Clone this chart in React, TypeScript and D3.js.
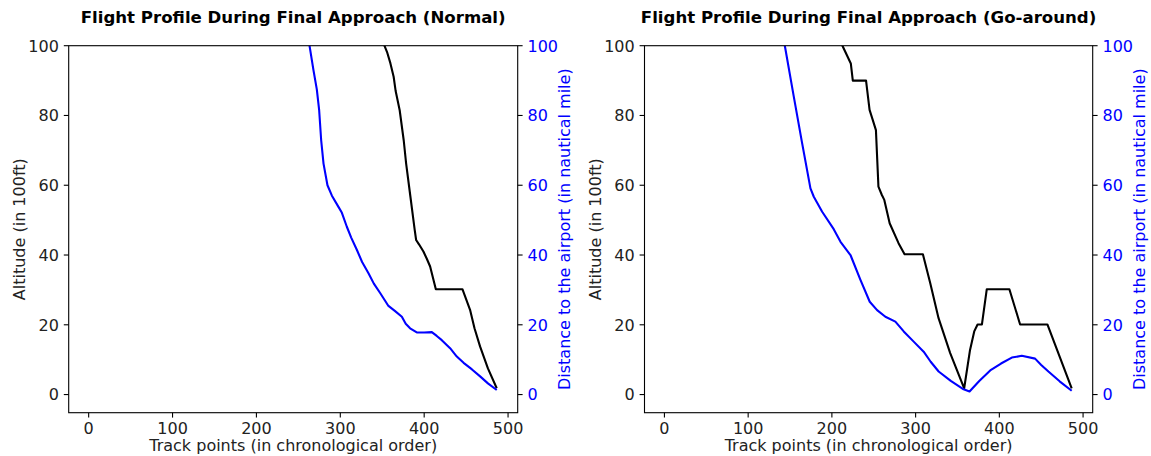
import React from 'react';
import * as d3 from 'd3';

// ---- Data (track point index, value) ----
// Normal approach: altitude (in 100 ft)
const normalAltIdx = [346, 352.6, 356, 359.7, 363.6, 366, 370.8, 375.6, 378.5, 383.6, 388.7, 390.4, 394, 399.1, 403, 407.1, 413.9, 445.6, 454.7, 460, 466.6, 476, 486.5];
const normalAlt = [107, 100, 98, 95, 91.1, 87, 81.5, 72.9, 66.2, 56.7, 47.2, 44.3, 43, 41, 39, 36.7, 30.2, 30.2, 24.3, 19, 13.8, 7.5, 1.8];
// Normal approach: distance to airport (nautical miles)
const normalDistIdx = [258, 263.3, 268, 272, 274.8, 277.2, 280, 284.7, 290, 297.8, 301.9, 307.8, 313, 319.7, 326, 333.6, 340, 347.5, 357.4, 365, 373.4, 378, 383.2, 391.2, 400, 409.1, 415, 421, 430.9, 438.9, 447, 457, 466.7, 476, 486.5];
const normalDist = [108, 100, 93, 87.5, 81.5, 72.9, 66.2, 60, 57, 53.8, 52.1, 48.1, 45, 41.5, 38, 34.8, 31.8, 29.1, 25.4, 24, 22.3, 20.3, 19, 17.8, 17.8, 17.9, 16.8, 15.6, 13.3, 10.9, 9.1, 7.2, 5.2, 3.2, 1.3];

// Go-around: altitude (in 100 ft)
const goAltIdx = [205, 212.6, 222.6, 225, 240.8, 245, 248.6, 252.6, 255.6, 259.7, 262.6, 269, 279.6, 286.8, 308.7, 317.5, 327.4, 341.3, 358, 365, 370, 374, 379.2, 385, 412, 424.8, 457.4, 486.4];
const goAlt = [104, 100, 94.9, 90, 90, 81.6, 78.9, 75.8, 59.6, 57.2, 55.8, 49.1, 43.4, 40.2, 40.2, 31.9, 21.9, 11.9, 1.8, 12.8, 18.1, 20.1, 20.1, 30.2, 30.2, 20.1, 20.1, 1.8];
// Go-around: distance to airport (nautical miles)
const goDistIdx = [137.5, 143.8, 154.5, 164.5, 174.4, 178.4, 188.4, 202.2, 210.3, 222.2, 234.1, 245.2, 254, 263.9, 275.8, 285.8, 298, 309.6, 318, 327.5, 342, 357.3, 364.4, 376, 389.1, 402, 414.9, 426.8, 442.7, 450, 458.6, 472, 486.4];
const goDist = [108.6, 100, 85.4, 72, 59.1, 56.7, 52.4, 47.4, 43.8, 40, 32.9, 26.6, 24.2, 22.3, 20.9, 18.1, 15.1, 12.3, 9.4, 6.6, 3.9, 1.5, 0.9, 3.9, 6.9, 8.9, 10.6, 11.1, 10.3, 8.5, 6.6, 3.8, 1.1];

const xTicks = [0, 100, 200, 300, 400, 500];
const yTicks = [0, 20, 40, 60, 80, 100];
const titles = ['Flight Profile During Final Approach (Normal)', 'Flight Profile During Final Approach (Go-around)'];
const xLabel = 'Track points (in chronological order)';
const yLabelLeft = 'Altitude (in 100ft)';
const yLabelRight = 'Distance to the airport (in nautical mile)';

const W = 1151;
const H = 456;
const TOP = 45.7;
const BOTTOM = 412.7;
const FONT = 'DejaVu Sans';
const FS = 16;
const TICK = 4.9;
const PAD = 4.9;

type PanelProps = {
  id: string;
  x0: number;
  x1: number;
  title: string;
  altIdx: number[];
  alt: number[];
  distIdx: number[];
  dist: number[];
};

function Panel({ id, x0, x1, title, altIdx, alt, distIdx, dist }: PanelProps) {
  const x = d3.scaleLinear().domain([-23.8, 511.5]).range([x0, x1]);
  const y = d3.scaleLinear().domain([-5.2, 100]).range([BOTTOM, TOP]);
  const y2 = d3.scaleLinear().domain([-5.2, 100]).range([BOTTOM, TOP]);
  const line = d3.line<[number, number]>().x((d) => x(d[0])).y((d) => y(d[1]));
  const line2 = d3.line<[number, number]>().x((d) => x(d[0])).y((d) => y2(d[1]));
  const altPts: [number, number][] = altIdx.map((v, i) => [v, alt[i]]);
  const distPts: [number, number][] = distIdx.map((v, i) => [v, dist[i]]);
  const cx = (x0 + x1) / 2;
  const cy = (TOP + BOTTOM) / 2;
  return (
    <g>
      <defs>
        <clipPath id={id}>
          <rect x={x0} y={TOP} width={x1 - x0} height={BOTTOM - TOP} />
        </clipPath>
      </defs>
      <text x={cx} y={23} textAnchor="middle" fontFamily={FONT} fontWeight="bold" fontSize={16.6} fill="#000">
        {title}
      </text>
      <g clipPath={`url(#${id})`}>
        <path d={line(altPts) || ''} fill="none" stroke="#000" strokeWidth={2.1} strokeLinejoin="round" />
        <path d={line2(distPts) || ''} fill="none" stroke="#0000ff" strokeWidth={2.1} strokeLinejoin="round" />
      </g>
      {/* spines */}
      <rect x={x0} y={TOP} width={x1 - x0} height={BOTTOM - TOP} fill="none" stroke="#000" strokeWidth={1.1} />
      {/* x ticks */}
      {xTicks.map((t) => (
        <g key={'x' + t}>
          <line x1={x(t)} x2={x(t)} y1={BOTTOM} y2={BOTTOM + TICK} stroke="#000" strokeWidth={1.1} />
          <text x={x(t)} y={BOTTOM + TICK + PAD + 11.2} textAnchor="middle" fontFamily={FONT} fontSize={FS} fill="#222">
            {t}
          </text>
        </g>
      ))}
      {/* left y ticks */}
      {yTicks.map((t) => (
        <g key={'yl' + t}>
          <line x1={x0 - TICK} x2={x0} y1={y(t)} y2={y(t)} stroke="#000" strokeWidth={1.1} />
          <text x={x0 - TICK - PAD} y={y(t) + 5.8} textAnchor="end" fontFamily={FONT} fontSize={FS} fill="#222">
            {t}
          </text>
        </g>
      ))}
      {/* right y ticks */}
      {yTicks.map((t) => (
        <g key={'yr' + t}>
          <line x1={x1} x2={x1 + TICK} y1={y2(t)} y2={y2(t)} stroke="#000" strokeWidth={1.1} />
          <text x={x1 + TICK + PAD} y={y2(t) + 5.8} textAnchor="start" fontFamily={FONT} fontSize={FS} fill="#0000ff">
            {t}
          </text>
        </g>
      ))}
      <text x={cx} y={451} textAnchor="middle" fontFamily={FONT} fontSize={FS} fill="#222">
        {xLabel}
      </text>
      <text
        transform={`translate(${x0 - 44},${cy}) rotate(-90)`}
        textAnchor="middle"
        fontFamily={FONT}
        fontSize={FS}
        fill="#222"
      >
        {yLabelLeft}
      </text>
      <text
        transform={`translate(${x1 + 52},${cy}) rotate(-90)`}
        textAnchor="middle"
        fontFamily={FONT}
        fontSize={FS}
        fill="#0000ff"
      >
        {yLabelRight}
      </text>
    </g>
  );
}

export default function App() {
  return (
    <svg
      width={W}
      height={H}
      viewBox={`0 0 ${W} ${H}`}
      style={{ position: 'absolute', left: 0, top: 0, background: '#fff' }}
    >
      <rect x={0} y={0} width={W} height={H} fill="#fff" />
      <Panel id="clipA" x0={68.7} x1={517.7} title={titles[0]} altIdx={normalAltIdx} alt={normalAlt} distIdx={normalDistIdx} dist={normalDist} />
      <Panel id="clipB" x0={644.5} x1={1092.7} title={titles[1]} altIdx={goAltIdx} alt={goAlt} distIdx={goDistIdx} dist={goDist} />
    </svg>
  );
}
